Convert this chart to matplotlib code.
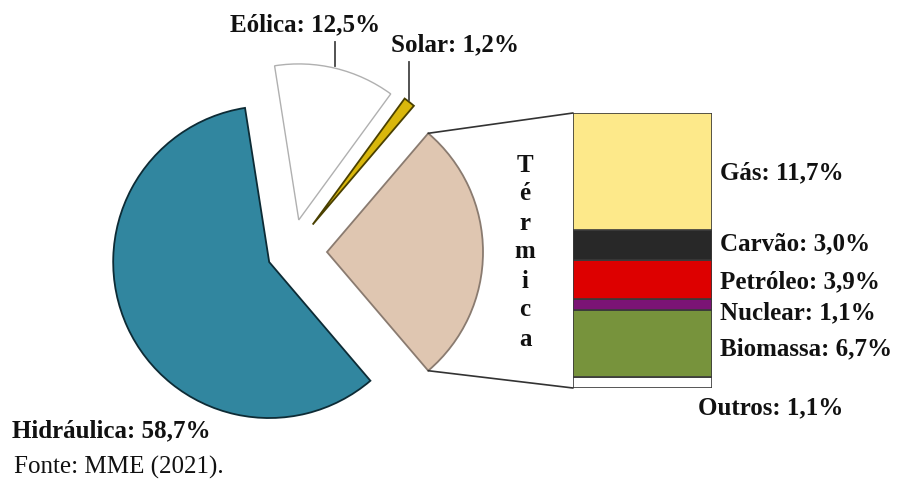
import matplotlib.pyplot as plt
from matplotlib.patches import ConnectionPatch
import numpy as np

# Matriz elétrica brasileira (MME, 2021)
pie_labels = ['Térmica', 'Solar', 'Eólica', 'Hidráulica']
pie_values_other = [1.2, 12.5, 58.7]          # Solar, Eólica, Hidráulica
termica_labels = ['Outros', 'Biomassa', 'Nuclear', 'Petróleo', 'Carvão', 'Gás']
termica_values = [1.1, 6.7, 1.1, 3.9, 3.0, 11.7]
termica_colors = ['#ffffff', '#77933c', '#7b1475', '#dd0000', '#282828', '#fde98a']

termica_total = sum(termica_values)
pie_values = [termica_total] + pie_values_other
pie_colors = ['#dfc6b1', '#d9b70c', '#ffffff', '#31869f']
pie_edges = ['#8a7b70', '#4a4000', '#b0b0b0', '#0d2b35']
explode = [36, 35, 33, 24]

W, H = 902, 482
fig = plt.figure(figsize=(W / 100, H / 100), dpi=100)
ax = fig.add_axes([0, 0, 1, 1])

def fmt(v):
    return f'{v:.1f}'.replace('.', ',') + '%'

# pizza principal (fatia térmica centrada em 0 graus)
start = -termica_total / sum(pie_values) * 360 / 2
wedges, _ = ax.pie(pie_values, colors=pie_colors, explode=explode, radius=156,
                   center=(291, 230), startangle=start, counterclock=True,
                   wedgeprops=dict(linewidth=1.3))
for w, ec in zip(wedges, pie_edges):
    w.set_edgecolor(ec)
wedges[2].set_linewidth(1.0)

ax.set_xlim(0, W)
ax.set_ylim(0, H)
ax.set_aspect('equal')
ax.axis('off')

font = dict(family='Liberation Serif', fontsize=18, fontweight='bold', color='#111111')

def arc_point(w, frac=0.5):
    ang = np.deg2rad(w.theta1 + frac * (w.theta2 - w.theta1))
    return w.center[0] + w.r * np.cos(ang), w.center[1] + w.r * np.sin(ang)

# rótulos com linha guia (Eólica e Solar)
for w, lab, val, ty, tx in [(wedges[2], 'Eólica', pie_values[2], 457, 305),
                            (wedges[1], 'Solar', pie_values[1], 437, 455)]:
    px, py = arc_point(w)
    ax.plot([px, px], [py + 2, ty - 17], color='#444444', lw=1.3)
    ax.text(tx, ty, f'{lab}: {fmt(val)}', ha='center', va='center', **font)

ax.text(12, 51, f'Hidráulica: {fmt(pie_values[3])}', ha='left', va='center', **font)
ax.text(14, 15, 'Fonte: MME (2021).', ha='left', va='center',
        family='Liberation Serif', fontsize=18, color='#111111')

# barra empilhada detalhando a geração térmica
bx0, by0, bw, bh = 573, 94, 139, 275
bax = fig.add_axes([bx0 / W, by0 / H, bw / W, bh / H])
bottoms = np.concatenate([[0], np.cumsum(termica_values)[:-1]])
bax.bar(0.5, termica_values, bottom=bottoms, width=1.0, color=termica_colors,
        edgecolor='#3a3a3a', linewidth=1.2)
bax.set_xlim(0, 1)
bax.set_ylim(0, termica_total)
bax.axis('off')

offsets = [None, -0.55, -0.85, -0.25, 0.1, -0.15]
for lab, val, b, off in zip(termica_labels, termica_values, bottoms, offsets):
    if off is None:
        bax.text(0.9, -2.0, f'{lab}: {fmt(val)}', ha='left', va='center',
                 clip_on=False, **font)
    else:
        bax.text(1.06, b + val / 2 + off, f'{lab}: {fmt(val)}', ha='left',
                 va='center', clip_on=False, **font)

# linhas ligando a fatia térmica à barra
tw = wedges[0]
for frac, corner in [(1.0, (0, termica_total)), (0.0, (0, 0))]:
    cp = ConnectionPatch(xyA=arc_point(tw, frac), coordsA=ax.transData,
                         xyB=corner, coordsB=bax.transData,
                         color='#333333', lw=1.2)
    fig.add_artist(cp)

# título vertical "Térmica"
for i, ch in enumerate('Térmica'):
    ax.text(525, 482 - 165 - i * 29, ch, ha='center', va='center', **font)

fig.savefig('out.png', dpi=100)
